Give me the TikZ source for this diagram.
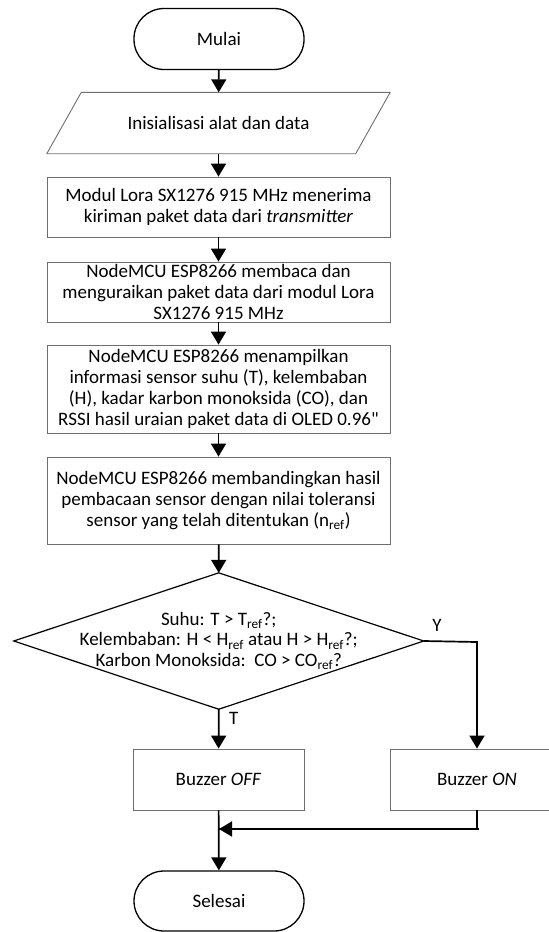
\documentclass[tikz,border=0pt]{standalone}
\usepackage{fontspec}
\setmainfont{Carlito}[Ligatures=TeXOff]
\usetikzlibrary{arrows.meta}
\definecolor{boxgray}{HTML}{6E6E6E}
\tikzset{
  base/.style={font=\fontsize{19}{20.8}\selectfont, align=center, inner sep=2pt},
  term/.style={base, draw=black, line width=1.3pt, rectangle, rounded corners=30pt, minimum width=170pt, minimum height=61pt},
  proc/.style={base, draw=boxgray, line width=0.9pt, rectangle, minimum width=343pt},
  plain/.style={base, rectangle},
  arr/.style={line width=1.7pt, -{Triangle[width=15pt,length=13pt]}},
  lbl/.style={font=\fontsize{19}{20.8}\selectfont, inner sep=0pt}
}
\begin{document}
\begin{tikzpicture}[x=1pt,y=-1pt]
\useasboundingbox (0,0) rectangle (549,932);
\begin{scope}
\clip (0,0) rectangle (549,932);
\node[term] (start) at (219,39) {Mulai};
\node[plain, minimum width=343pt, minimum height=61pt] (io) at (218.5,123) {Inisialisasi alat dan data};
\draw[draw=boxgray, line width=0.9pt] ([xshift=34.5pt]io.north west) -- (io.north east) -- ([xshift=-34.5pt]io.south east) -- (io.south west) -- cycle;
\node[proc, minimum height=60pt] (p1) at (218.5,207) {Modul Lora SX1276 915 MHz menerima\\kiriman paket data dari \textit{transmitter}};
\node[proc, minimum height=60pt] (p2) at (218.5,292) {NodeMCU ESP8266 membaca dan\\menguraikan paket data dari modul Lora\\SX1276 915 MHz};
\node[proc, minimum height=88pt] (p3) at (218.5,389) {NodeMCU ESP8266 menampilkan\\informasi sensor suhu (T), kelembaban\\(H), kadar karbon monoksida (CO), dan\\RSSI hasil uraian paket data di OLED 0.96"};
\node[proc, minimum height=87pt] (p4) at (218.5,500.5) {NodeMCU ESP8266 membandingkan hasil\\pembacaan sensor dengan nilai toleransi\\sensor yang telah ditentukan (n\textsubscript{ref})};
\node[plain, minimum width=409.5pt, minimum height=136pt] (dec) at (218.75,641) {Suhu: T > T\textsubscript{ref}?;\\Kelembaban: H < H\textsubscript{ref} atau H > H\textsubscript{ref}?;\\Karbon Monoksida:\ \ CO > CO\textsubscript{ref}?};
\draw[line width=1.2pt] (dec.north) -- (dec.east) -- (dec.south) -- (dec.west) -- cycle;
\node[proc, minimum width=171pt, minimum height=61pt] (off) at (218.5,779.5) {Buzzer \textit{OFF}};
\node[proc, minimum width=174pt, minimum height=61pt] (on) at (477,779.5) {Buzzer \textit{ON}};
\node[term, minimum height=60pt] (stop) at (219,901) {Selesai};
\coordinate (yc) at (477,642);
\coordinate (j) at (219,829);
\node[lbl, anchor=west] (tl) at (229,718) {T};
\node[lbl] (yl) at (437,625) {Y};
\draw[arr] (start) -- (io);
\draw[arr] (io.south) -- (p1);
\draw[arr] (p1) -- (p2);
\draw[arr] (p2) -- (p3);
\draw[arr] (p3) -- (p4);
\draw[arr] (p4) -- (dec.north);
\draw[arr] (dec.south) -- (off);
\draw[arr] (dec.east) -- (yc) -- (on);
\draw[line width=1.7pt] (on.south) |- (j);
\draw[arr] ([xshift=2pt]on.south |- j) -- (j);
\draw[arr] (off) -- (stop);
\end{scope}
\end{tikzpicture}
\end{document}
